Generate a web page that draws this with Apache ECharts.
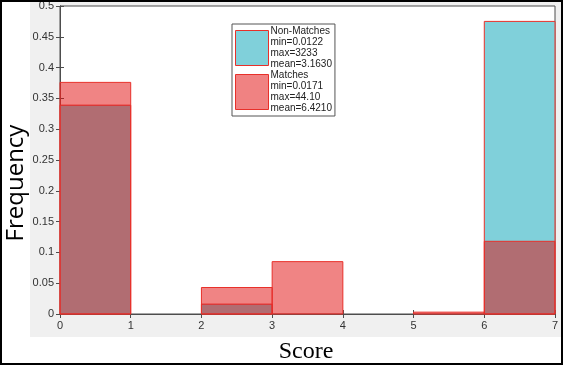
<!DOCTYPE html>
<html><head><meta charset="utf-8">
<script src="https://cdn.jsdelivr.net/npm/echarts@6/dist/echarts.min.js"></script>
<style>html,body{margin:0;padding:0;background:#fff}#c{width:563px;height:365px}</style>
</head><body><div id="c"></div>
<script>
// Histogram bin edges (score)
const binStarts = [0, 1, 2, 3, 4, 5, 6];
const binEnds   = [1, 2, 3, 4, 5, 6, 7];
// Frequencies
const nonMatches = [0.339, 0, 0.016, 0, 0, 0, 0.475];
const matches    = [0.376, 0, 0.043, 0.085, 0, 0.003, 0.118];
const yTicks = [0, 0.05, 0.1, 0.15, 0.2, 0.25, 0.3, 0.35, 0.4, 0.45, 0.5];
const legendNonMatches = ['Non-Matches', 'min=0.0122', 'max=3233', 'mean=3.1630'];
const legendMatches = ['Matches', 'min=0.0171', 'max=44.10', 'mean=6.4210'];

function toData(vals){ return vals.map((v,i)=>[binStarts[i], binEnds[i], v]); }
function renderHist(params, api){
  const lo = api.value(0), hi = api.value(1), v = api.value(2);
  if (v <= 0) return null;
  const p0 = api.coord([lo, v]);
  const p1 = api.coord([hi, 0]);
  return {
    type: 'rect',
    shape: { x: p0[0], y: p0[1], width: p1[0]-p0[0], height: p1[1]-p0[1] },
    style: api.style()
  };
}
const chart = echarts.init(document.getElementById('c'), null, {renderer:'canvas'});
const axisCol = '#4d4d4d';
const sans = '"Liberation Sans", Arial, sans-serif';
chart.setOption({
  animation: false,
  graphic: [
    { type:'rect', silent:true, z:-10, shape:{x:30, y:2, width:531, height:335}, style:{fill:'#f0f0f0'} },
    { type:'rect', silent:true, z:100, shape:{x:1, y:1, width:561, height:363}, style:{fill:'none', stroke:'#000', lineWidth:2} },
    { type:'text', silent:true, rotation: Math.PI/2, x: 16, y: 183,
      style:{ text:'Frequency', fill:'#000', fontSize:24, fontFamily:'"Open Sans", "Noto Sans", sans-serif', align:'center', verticalAlign:'middle' } },
    { type:'text', silent:true, x: 306, y: 352,
      style:{ text:'Score', fill:'#000', fontSize:24, fontFamily:'"Liberation Serif", "Times New Roman", serif', align:'center', verticalAlign:'middle' } }
  ],
  grid: { left:60, right:8, top:6, bottom:51, show:true, backgroundColor:'#fff', borderColor:axisCol, borderWidth:1 },
  legend: {
    orient:'vertical', left:232, top:24, padding:[2,3,2,3], itemGap:0,
    itemWidth:33, itemHeight:35, icon:'rect',
    borderColor:'#555', borderWidth:1, backgroundColor:'#fff',
    textStyle:{ fontSize:10, lineHeight:11, color:'#222', fontFamily:sans, padding:[0,0,0,-3] },
    formatter: function(name){ return (name==='Non-Matches'?legendNonMatches:legendMatches).join('\n'); },
    data: [
      { name:'Non-Matches', itemStyle:{ color:'#80d0da', borderColor:'#e8302a', borderWidth:1 } },
      { name:'Matches', itemStyle:{ color:'#f08282', borderColor:'#e8302a', borderWidth:1 } }
    ]
  },
  xAxis: [
    { type:'value', min:0, max:7, interval:1, position:'bottom',
      axisLine:{ show:true, lineStyle:{ color:axisCol } },
      axisTick:{ show:true, inside:true, length:4, lineStyle:{ color:axisCol } },
      axisLabel:{ color:'#333', fontSize:11, margin:6, fontFamily:sans },
      splitLine:{ show:false } },
    { type:'value', min:0, max:7, interval:1, position:'top',
      axisLine:{ show:true, lineStyle:{ color:axisCol } },
      axisTick:{ show:true, inside:true, length:4, lineStyle:{ color:axisCol } },
      axisLabel:{ show:false }, splitLine:{ show:false } }
  ],
  yAxis: [
    { type:'value', min:0, max:0.5, interval:0.05, position:'left',
      axisLine:{ show:true, lineStyle:{ color:axisCol } },
      axisTick:{ show:true, inside:true, length:4, lineStyle:{ color:axisCol } },
      axisLabel:{ color:'#333', fontSize:11, margin:6, fontFamily:sans,
        formatter: v => String(+v.toFixed(2)) },
      splitLine:{ show:false } },
    { type:'value', min:0, max:0.5, interval:0.05, position:'right',
      axisLine:{ show:true, lineStyle:{ color:axisCol } },
      axisTick:{ show:true, inside:true, length:4, lineStyle:{ color:axisCol } },
      axisLabel:{ show:false }, splitLine:{ show:false } }
  ],
  series: [
    { name:'Non-Matches', type:'custom', renderItem: renderHist, xAxisIndex:0, yAxisIndex:0,
      encode:{ x:[0,1], y:2 }, data: toData(nonMatches), z:2,
      itemStyle:{ color:'#80d0da', borderColor:'#e8302a', borderWidth:1 } },
    { name:'Matches', type:'custom', renderItem: renderHist, xAxisIndex:0, yAxisIndex:0,
      encode:{ x:[0,1], y:2 }, data: toData(matches), z:3,
      itemStyle:{ color:'rgba(225,10,10,0.5)', borderColor:'#e8302a', borderWidth:1 } }
  ]
});
</script></body></html>
